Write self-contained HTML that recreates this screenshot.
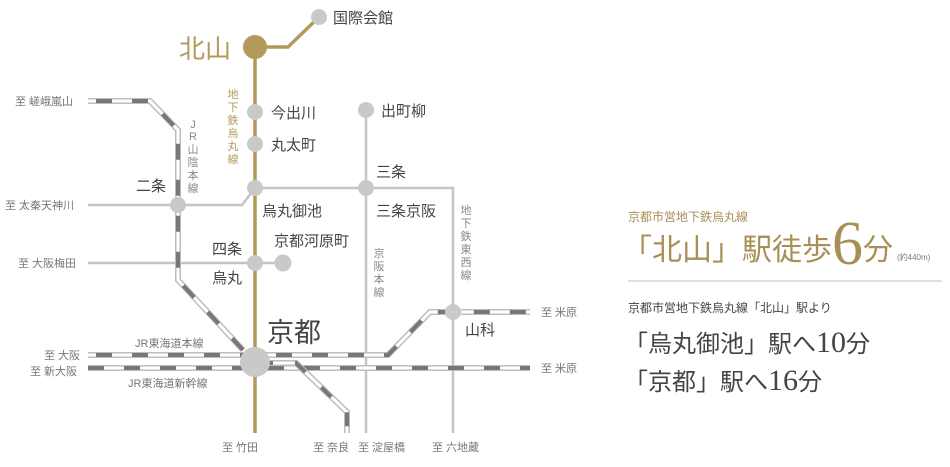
<!DOCTYPE html>
<html><head><meta charset="utf-8"><style>
body{margin:0;background:#fff}
svg text{font-family:"Liberation Sans","Noto Sans CJK JP",sans-serif}
.s{font-family:"Liberation Serif","Noto Serif CJK SC",serif}
</style></head><body>
<svg width="950" height="462" viewBox="0 0 950 462" xmlns="http://www.w3.org/2000/svg">
<g fill="none" stroke-linejoin="miter">
<g stroke="#c4c4c4" stroke-width="2.5">
<path d="M366 110V433"/>
<path d="M255 188H453V433"/>
<path d="M88 205H242L255 188"/>
<path d="M88 263H283"/>
</g>
<g>
<path d="M88 101H150L178 130V280L243 350" stroke="#bdbdbd" stroke-width="6"/>
<path d="M88 101H150L178 130V280L243 350" stroke="#fff" stroke-width="3"/>
<path d="M88 101H150L178 130V280L243 350" stroke="#777" stroke-width="4" stroke-dasharray="16 20" stroke-dashoffset="-8"/>
<path d="M88 355H388L430 312H530" stroke="#bdbdbd" stroke-width="6"/>
<path d="M88 355H388L430 312H530" stroke="#fff" stroke-width="3"/>
<path d="M88 355H388L430 312H530" stroke="#777" stroke-width="4" stroke-dasharray="16 20" stroke-dashoffset="-8"/>
<path d="M88 368H530" stroke="#bdbdbd" stroke-width="6"/>
<path d="M88 368H530" stroke="#fff" stroke-width="3"/>
<path d="M88 368H530" stroke="#777" stroke-width="4" stroke-dasharray="16 20"/>
<path d="M255 363H296L347 412V433" stroke="#bdbdbd" stroke-width="6"/>
<path d="M255 363H296L347 412V433" stroke="#fff" stroke-width="3"/>
<path d="M255 363H296L347 412V433" stroke="#777" stroke-width="4" stroke-dasharray="14 22" stroke-dashoffset="-4"/>
</g>
<path d="M255 47V433M255 47H288L318 18" stroke="#b39a5c" stroke-width="3.5"/>
</g>
<g fill="#c9c9c9">
<circle cx="319" cy="17" r="8"/>
<circle cx="255" cy="112" r="8"/><circle cx="255" cy="144" r="8"/>
<circle cx="255" cy="188" r="8"/><circle cx="366" cy="188" r="8"/>
<circle cx="366" cy="110" r="8"/><circle cx="178" cy="205" r="8"/>
<circle cx="255" cy="263" r="8"/><circle cx="283" cy="263" r="8.5"/>
<circle cx="453" cy="312" r="8"/><circle cx="255" cy="362" r="15"/>
</g>
<circle cx="255" cy="47" r="12" fill="#b39a5c"/>
<g fill="#444" font-size="15">
<text x="333" y="23">国際会館</text>
<text x="271" y="118">今出川</text><text x="271" y="150">丸太町</text>
<text x="381" y="116">出町柳</text><text x="376" y="177">三条</text>
<text x="262" y="216">烏丸御池</text><text x="376" y="216">三条京阪</text>
<text x="136" y="191">二条</text><text x="212" y="254">四条</text>
<text x="212" y="283">烏丸</text><text x="274" y="246">京都河原町</text>
<text x="465" y="335">山科</text>
<text x="267" y="342" font-size="27">京都</text>
</g>
<text x="179" y="58" font-size="26" fill="#b39a5c">北山</text>
<g fill="#777" font-size="11">
<text x="15" y="105">至 嵯峨嵐山</text><text x="5" y="209">至 太秦天神川</text>
<text x="18" y="267">至 大阪梅田</text><text x="44" y="359">至 大阪</text>
<text x="30" y="375">至 新大阪</text><text x="541" y="316">至 米原</text>
<text x="541" y="372">至 米原</text>
<text x="222" y="451">至 竹田</text><text x="313" y="451">至 奈良</text>
<text x="358" y="451">至 淀屋橋</text><text x="432" y="451">至 六地蔵</text>
<text x="135" y="347">JR東海道本線</text><text x="128" y="387">JR東海道新幹線</text>
</g>
<g font-size="11" text-anchor="middle">
<text fill="#b39a5c" x="233" y="98">地</text><text fill="#b39a5c" x="233" y="111">下</text><text fill="#b39a5c" x="233" y="124">鉄</text><text fill="#b39a5c" x="233" y="137">烏</text><text fill="#b39a5c" x="233" y="150">丸</text><text fill="#b39a5c" x="233" y="163">線</text>
<g fill="#888"><text x="193" y="128">J</text><text x="193" y="140">R</text><text x="193" y="153">山</text><text x="193" y="166">陰</text><text x="193" y="179">本</text><text x="193" y="192">線</text>
<text x="379" y="257">京</text><text x="379" y="270">阪</text><text x="379" y="283">本</text><text x="379" y="296">線</text>
<text x="466" y="214">地</text><text x="466" y="227">下</text><text x="466" y="240">鉄</text><text x="466" y="253">東</text><text x="466" y="266">西</text><text x="466" y="279">線</text></g>
</g>
<text x="628" y="221" font-size="12" fill="#a88f55">京都市営地下鉄烏丸線</text>
<text x="622" y="260" font-size="30" fill="#a88f55">「北山」駅徒歩<tspan class="s" font-size="62" dy="4">6</tspan><tspan font-size="30" dy="-4">分</tspan><tspan font-size="8" dx="4" fill="#777">(約440m)</tspan></text>
<line x1="628" y1="281" x2="942" y2="281" stroke="#ccc" stroke-width="1.2"/>
<text x="628" y="312" font-size="12" fill="#444">京都市営地下鉄烏丸線「北山」駅より</text>
<text x="624" y="352" font-size="24" fill="#444">「烏丸御池」駅へ<tspan class="s" font-size="30">10</tspan>分</text>
<text x="624" y="390" font-size="24" fill="#444">「京都」駅へ<tspan class="s" font-size="30">16</tspan>分</text>
</svg>
</body></html>
